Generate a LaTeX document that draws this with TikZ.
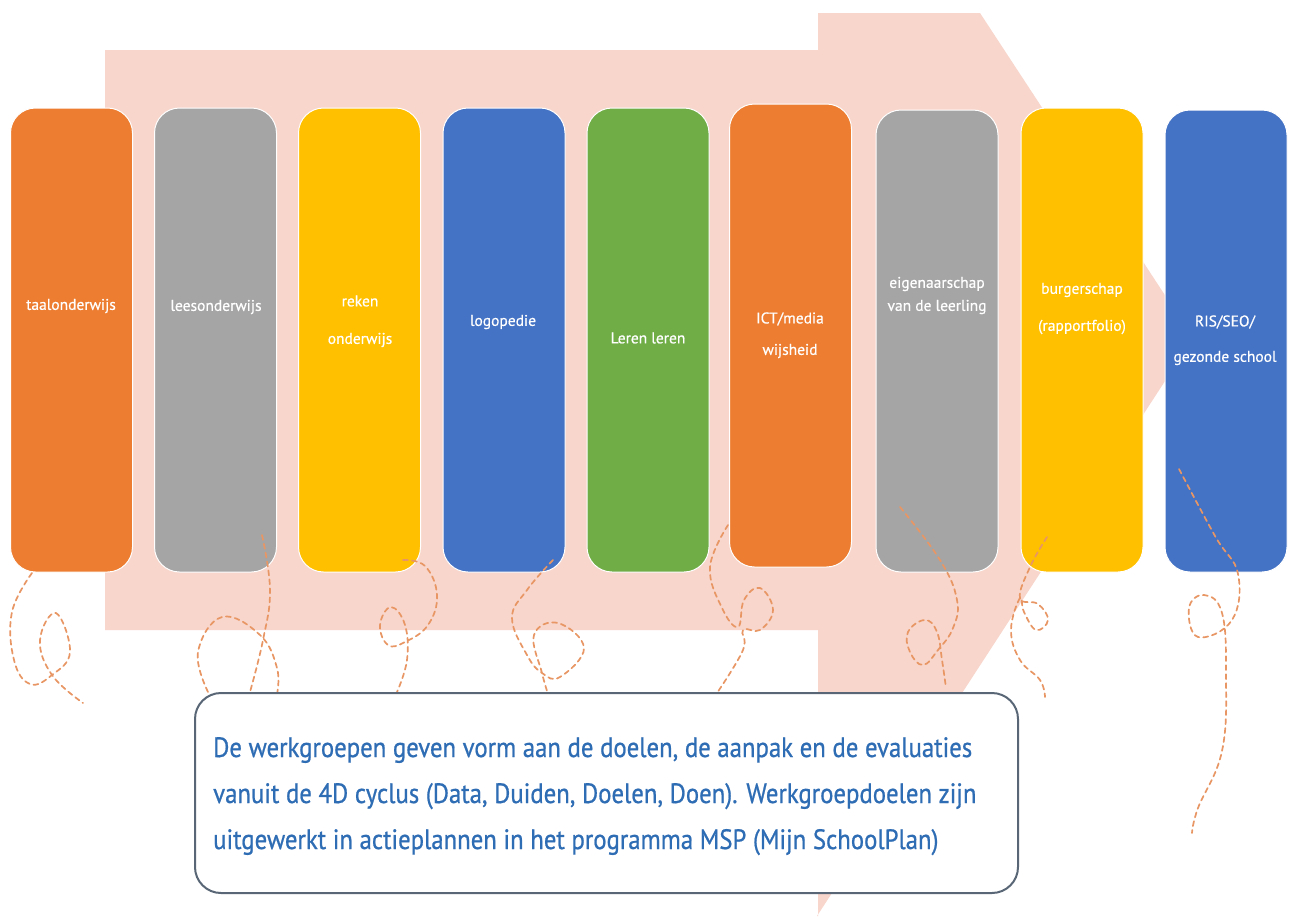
\documentclass[tikz,border=0pt]{standalone}
\usepackage{fontspec}
\setmainfont{PT Sans}
\newfontfamily\labfont[FakeBold=0.6]{PT Sans}
\newfontfamily\boxfont[FakeStretch=0.885,FakeBold=0.7]{PT Sans}
\definecolor{arrowpink}{RGB}{248,214,203}
\definecolor{corange}{RGB}{237,125,49}
\definecolor{cgray}{RGB}{165,165,165}
\definecolor{cyellow}{RGB}{255,192,0}
\definecolor{cblue}{RGB}{68,114,196}
\definecolor{cgreen}{RGB}{112,173,71}
\definecolor{curlc}{RGB}{232,150,100}
\definecolor{boxline}{RGB}{88,102,118}
\definecolor{txtblue}{RGB}{46,108,180}
\tikzset{
  col/.style={draw=white, line width=1pt, rounded corners=25pt, minimum width=122pt, minimum height=464pt, inner sep=0pt},
  lab/.style={text=white, font=\labfont\fontsize{15.5}{17}\selectfont, align=center, inner sep=0pt},
  curl/.style={draw=curlc, line width=1.7pt, dash pattern=on 5pt off 4pt, line cap=round},
  boxtxt/.style={text=txtblue, font=\boxfont\fontsize{28}{30}\selectfont, inner sep=0pt, anchor=base west}
}
\begin{document}
\begin{tikzpicture}[x=1pt,y=-1pt]
\useasboundingbox (0,0) rectangle (1290,916);
\fill[white] (0,0) rectangle (1290,916);
% big arrow
\fill[arrowpink] (105,50) -- (818,50) -- (818,13) -- (980,13) -- (1193,338) -- (817,916) -- (818,916) -- (818,630) -- (105,630) -- cycle;
% columns
\node[col, fill=corange] (c1) at (71.5,340) {};
\node[col, fill=cgray]   (c2) at (215.5,340) {};
\node[col, fill=cyellow] (c3) at (359.5,340) {};
\node[col, fill=cblue]   (c4) at (504,340) {};
\node[col, fill=cgreen]  (c5) at (648,340) {};
\node[col, fill=corange, minimum height=463pt] (c6) at (790.5,335.5) {};
\node[col, fill=cgray, minimum height=462pt]   (c7) at (937,341) {};
\node[col, fill=cyellow] (c8) at (1082,340) {};
\node[col, fill=cblue, minimum height=462pt]   (c9) at (1226,341) {};
% labels
\node[lab] (l1) at (71,306) {taalonderwijs};
\node[lab] (l2) at (216,307) {leesonderwijs};
\node[lab] (l3a) at (360,301) {reken};
\node[lab] (l3b) at (360,340) {onderwijs};
\node[lab] (l4) at (503,322) {logopedie};
\node[lab] (l5) at (648,338) {Leren leren};
\node[lab] (l6a) at (790,319) {ICT/media};
\node[lab] (l6b) at (790,351) {wijsheid};
\node[lab] (l7a) at (937,284) {eigenaarschap};
\node[lab] (l7b) at (937,307) {van de leerling};
\node[lab] (l8a) at (1082,290) {burgerschap};
\node[lab] (l8b) at (1082,327) {(rapportfolio)};
\node[lab] (l9a) at (1225,322) {RIS/SEO/};
\node[lab] (l9b) at (1225,358) {gezonde school};
% decorative dashed curls
\draw[curl] plot[smooth, tension=0.7] coordinates {(32,573) (12,612) (14,660) (30,684) (52,675) (70,652) (56,613) (40,640) (52,675) (83,703)};
\draw[curl] plot[smooth, tension=0.7] coordinates {(262,535) (270,590) (263,640) (250,692)};
\draw[curl] plot[smooth, tension=0.7] coordinates {(208,692) (198,652) (222,617) (260,635) (277,668) (277,694)};
\draw[curl] plot[smooth, tension=0.7] coordinates {(403,560) (425,566) (437,595) (428,625) (405,642) (388,645) (380,625) (391,607) (405,625) (407,660) (397,692)};
\draw[curl] plot[smooth, tension=0.7] coordinates {(553,560) (527,590) (512,618) (527,655) (542,673) (560,677) (584,648) (558,623) (534,635) (542,673) (548,694)};
\draw[curl] plot[smooth, tension=0.7] coordinates {(728,525) (710,567) (722,608) (738,627) (744,600) (760,588) (773,610) (760,630) (743,630) (743,650) (717,693)};
\draw[curl] plot[smooth, tension=0.7] coordinates {(900,507) (940,560) (957,600) (953,628) (938,650) (923,665) (910,652) (908,632) (925,620) (937,632) (942,660) (946,688)};
\draw[curl] plot[smooth, tension=0.7] coordinates {(1047,537) (1030,567) (1020,598) (1038,604) (1048,620) (1036,630) (1024,612) (1020,598) (1011,630) (1020,660) (1040,680) (1045,697)};
\draw[curl] plot[smooth, tension=0.7] coordinates {(1179,469) (1215,536) (1238,574) (1232,620) (1198,637) (1189,608) (1204,595) (1222,613) (1226,675) (1222,751) (1198,808) (1192,833)};
% text box
\node[draw=boxline, line width=2pt, fill=white, rounded corners=26pt, minimum width=823pt, minimum height=200pt, inner sep=0pt] (box) at (606.5,793) {};
\node[boxtxt] (t1) at (213,757) {De werkgroepen geven vorm aan de doelen, de aanpak en de evaluaties};
\node[boxtxt] (t2) at (213,803) {vanuit de 4D cyclus (Data, Duiden, Doelen, Doen). Werkgroepdoelen zijn};
\node[boxtxt] (t3) at (213,849) {uitgewerkt in actieplannen in het programma MSP (Mijn SchoolPlan)};
\end{tikzpicture}
\end{document}
